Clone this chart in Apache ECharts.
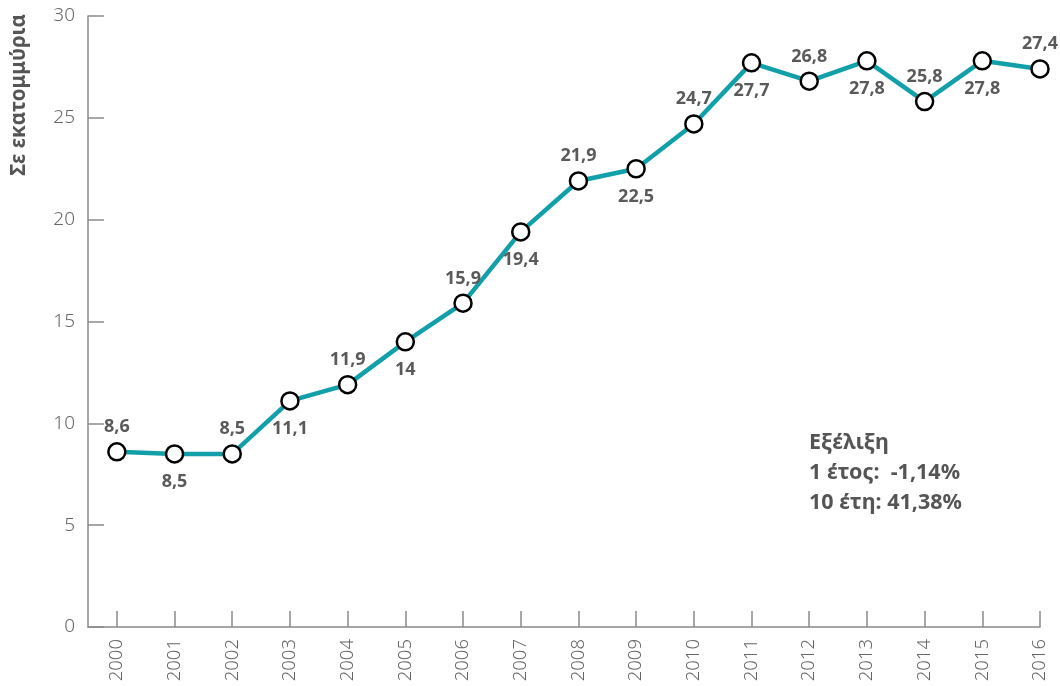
<!DOCTYPE html>
<html>
<head>
<meta charset="utf-8">
<script src="https://cdn.jsdelivr.net/npm/echarts@6/dist/echarts.min.js"></script>
<style>
  html, body { margin: 0; padding: 0; background: #ffffff; }
  #chart { width: 1060px; height: 686px; }
</style>
</head>
<body>
<div id="chart"></div>
<script>
// Years and values (millions)
const years = [2000, 2001, 2002, 2003, 2004, 2005, 2006, 2007, 2008, 2009, 2010, 2011, 2012, 2013, 2014, 2015, 2016];
const values = [8.6, 8.5, 8.5, 11.1, 11.9, 14, 15.9, 19.4, 21.9, 22.5, 24.7, 27.7, 26.8, 27.8, 25.8, 27.8, 27.4];
// Where each value label sits relative to its point
const labelSides = ['top', 'bottom', 'top', 'bottom', 'top', 'bottom', 'top', 'bottom', 'top', 'bottom', 'top', 'bottom', 'top', 'bottom', 'top', 'bottom', 'top'];
const yTicks = [0, 5, 10, 15, 20, 25, 30];
const axisTitle = 'Σε εκατομμύρια';
const changeLines = ['Εξέλιξη', '1 έτος:  -1,14%', '10 έτη: 41,38%'];

const FONT = '"Noto Sans", "DejaVu Sans", sans-serif';
const fmt = v => String(v).replace('.', ',');

const seriesData = years.map((y, i) => ({
  value: [y, values[i]],
  label: {
    position: labelSides[i],
    distance: labelSides[i] === 'top' ? 6 : 9
  }
}));

const chart = echarts.init(document.getElementById('chart'), null, { renderer: 'canvas' });
chart.setOption({
  animation: false,
  backgroundColor: '#ffffff',
  grid: { left: 88, right: 20, top: 16, bottom: 59, containLabel: false },
  xAxis: {
    type: 'value',
    min: years[0] - 0.5,
    max: years[years.length - 1],
    splitLine: { show: false },
    axisLine: { show: true, lineStyle: { color: '#8a8a8a', width: 1.5 } },
    axisTick: {
      show: true, inside: true, length: 16,
      customValues: years,
      lineStyle: { color: '#8a8a8a', width: 1.5 }
    },
    axisLabel: {
      show: true,
      customValues: years,
      rotate: 90,
      margin: 12,
      color: '#666666',
      fontSize: 18.5,
      fontFamily: FONT,
      fontWeight: 300,
      formatter: v => String(v)
    }
  },
  yAxis: {
    type: 'value',
    min: 0,
    max: 30,
    interval: 5,
    splitLine: { show: false },
    axisLine: { show: true, lineStyle: { color: '#8a8a8a', width: 1.5 } },
    axisTick: { show: true, inside: true, length: 16, lineStyle: { color: '#8a8a8a', width: 1.5 } },
    axisLabel: {
      show: true,
      customValues: yTicks,
      margin: 13,
      color: '#666666',
      fontSize: 19,
      fontFamily: FONT,
      fontWeight: 300
    }
  },
  series: [{
    type: 'line',
    data: seriesData,
    symbol: 'circle',
    symbolSize: 17,
    lineStyle: { color: '#11a0a9', width: 4.5 },
    itemStyle: { color: '#ffffff', borderColor: '#000000', borderWidth: 2.5 },
    label: {
      show: true,
      color: '#5a5a5a',
      fontSize: 18,
      fontWeight: 'bold',
      fontFamily: FONT,
      formatter: p => fmt(p.value[1])
    },
    z: 3
  }],
  graphic: [
    {
      type: 'text',
      x: 19,
      y: 95,
      rotation: Math.PI / 2,
      style: {
        text: axisTitle,
        fill: '#555555',
        font: 'bold 20.5px ' + FONT,
        textAlign: 'center',
        textVerticalAlign: 'middle'
      }
    },
    {
      type: 'text',
      left: 809,
      top: 428,
      style: {
        text: changeLines.join('\n'),
        fill: '#555555',
        font: 'bold 21.5px ' + FONT,
        lineHeight: 30
      }
    }
  ]
});
</script>
</body>
</html>
